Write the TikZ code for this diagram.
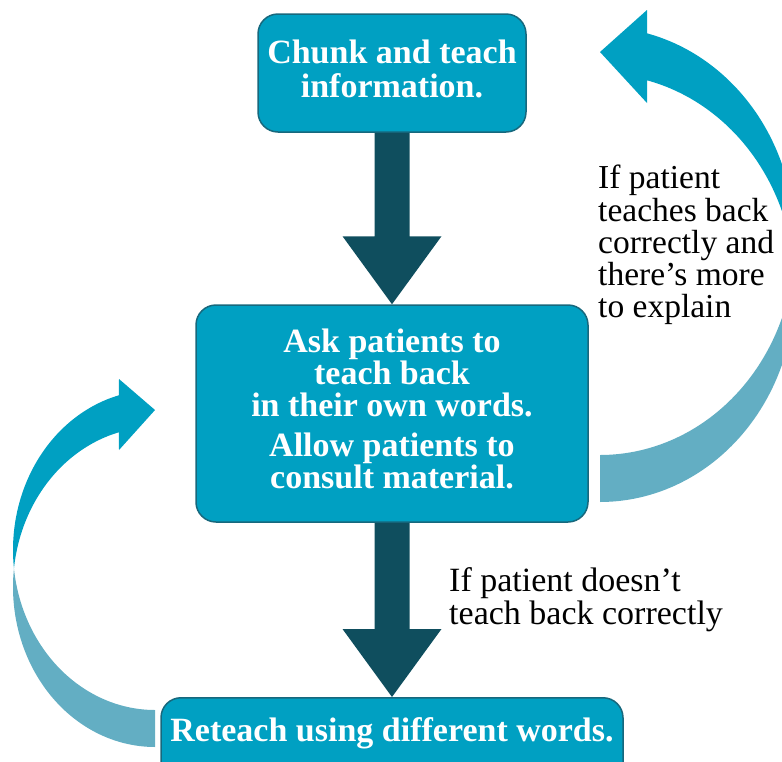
\documentclass[tikz,border=0pt]{standalone}
\usepackage{fontspec}
\setmainfont{Liberation Serif}
\usetikzlibrary{calc}
\definecolor{boxfill}{HTML}{00A0C2}
\definecolor{boxline}{HTML}{17687D}
\definecolor{arrowdark}{HTML}{0F4E5E}
\definecolor{arrowblue}{HTML}{00A0C2}
\definecolor{arrowlight}{HTML}{63AEC3}
\begin{document}
\begin{tikzpicture}[x=1pt,y=-1pt,
  stepbox/.style={draw=boxline, line width=1.5pt, fill=boxfill, rounded corners=20pt,
    text=white, font=\fontsize{34}{34}\selectfont\bfseries, align=center, inner sep=0pt},
  notetext/.style={text=black, align=left, inner sep=0pt, anchor=north west},
  darkarrow/.style={fill=arrowdark},
  frontarc/.style={fill=arrowblue},
  backarc/.style={fill=arrowlight}
]
\useasboundingbox (0,0) rectangle (782,761);
\clip (0,0) rectangle (782,761);

% boxes
\node[stepbox, minimum width=268pt, minimum height=118pt] (top) at (392,73)
  {Chunk and teach\\information.\rule[-9pt]{0pt}{0pt}};
\node[stepbox, minimum width=392pt, minimum height=217pt,
  font=\fontsize{34}{32}\selectfont\bfseries] (mid) at (392,413.5)
  {Ask patients to\\teach back\\in their own words.\\[8pt]Allow patients to\\consult material.\rule[-10pt]{0pt}{0pt}};
\node[stepbox, anchor=north, minimum width=462pt, text height=23pt, text depth=30pt,
  inner ysep=21pt] (reteach) at (392,697) {Reteach using different words.};

% labels
\node[notetext, font=\fontsize{34}{33}\selectfont] (nobad) at (449,567)
  {If patient doesn’t\\teach back correctly};
\node[notetext, font=\fontsize{33.5}{32.3}\selectfont] (good) at (598,165)
  {If patient\\teaches back\\correctly and\\there’s more\\to explain};

% straight arrows
\fill[darkarrow] let \p1=(top.south), \p2=(mid.north) in
  (\x1-17.5pt,\y1) -- (\x1+17.5pt,\y1) -- (\x1+17.5pt,\y2+68pt) -- (\x1+49.5pt,\y2+68pt)
  -- (\x1,\y2) -- (\x1-49.5pt,\y2+68pt) -- (\x1-17.5pt,\y2+68pt) -- cycle;
\fill[darkarrow] let \p1=(mid.south), \p2=(reteach.north) in
  (\x1-17.5pt,\y1) -- (\x1+17.5pt,\y1) -- (\x1+17.5pt,\y2+68pt) -- (\x1+49.5pt,\y2+68pt)
  -- (\x1,\y2) -- (\x1-49.5pt,\y2+68pt) -- (\x1-17.5pt,\y2+68pt) -- cycle;

% right curved arrow (back part, then front part)
\fill[backarc] plot[domain=-6.3:90, samples=60] ({600+195*cos(\x)},{288+214*sin(\x)})
  -- plot[domain=90:6.3, samples=60] ({600+195*cos(\x)},{241+214*sin(\x)}) -- cycle;
\fill[frontarc] plot[domain=-76:6.3, samples=60] ({600+195*cos(\x)},{241+214*sin(\x)})
  -- plot[domain=-6.3:-76, samples=60] ({600+195*cos(\x)},{288+214*sin(\x)})
  -- (647,103) -- (600,52) -- (647,10) -- cycle;

% left curved arrow
\fill[backarc] plot[domain=-6.64:90, samples=60] ({155-142*cos(\x)},{587+160*sin(\x)})
  -- plot[domain=90:6.64, samples=60] ({155-142*cos(\x)},{550+160*sin(\x)}) -- cycle;
\fill[frontarc] plot[domain=-75.3:6.64, samples=60] ({155-142*cos(\x)},{550+160*sin(\x)})
  -- plot[domain=-6.64:-75.3, samples=60] ({155-142*cos(\x)},{587+160*sin(\x)})
  -- (119,450) -- (155,410) -- (119,379) -- cycle;
\end{tikzpicture}
\end{document}
